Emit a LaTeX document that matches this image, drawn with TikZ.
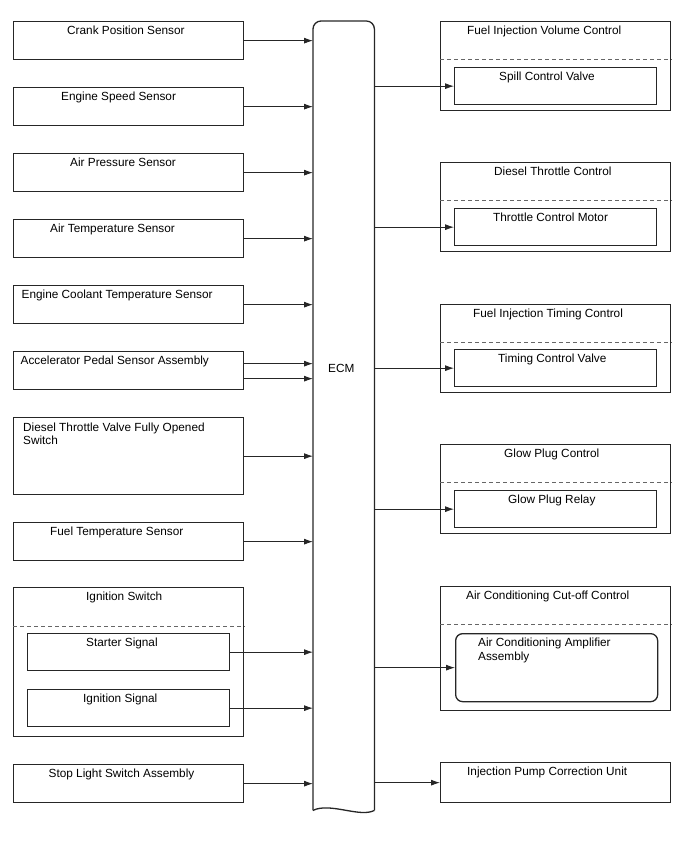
\documentclass[tikz,border=0pt]{standalone}
\usepackage{fontspec}
\setmainfont{Liberation Sans}
\usetikzlibrary{arrows.meta}

\begin{document}
\begin{tikzpicture}[x=1pt, y=-1pt, font=\fontsize{11.8}{13.4}\selectfont,
  blk/.style={draw=black!85, line width=1.3pt, inner sep=0, anchor=north west, minimum width=230pt, minimum height=38pt},
  sub/.style={blk, minimum width=202pt, minimum height=37pt},
  ttl/.style={anchor=base west, inner sep=0, align=left},
  grp/.style={draw=black!60, line width=0.8pt, dash pattern=on 4pt off 3pt},
  sig/.style={draw=black!85, line width=0.8pt, -{Latex[length=9pt, width=6pt]}}]
\useasboundingbox (0,0) rectangle (688,852);
\node[inner sep=0, anchor=north west, minimum width=61pt, minimum height=789pt] (ecm) at (313,21) {}; \node[ttl] (ecmt) at (328,372) {ECM};
\draw[draw=black!85, line width=1.3pt, rounded corners=8pt] (ecm.south west) -- (ecm.north west) -- (ecm.north east) -- (ecm.south east);
\draw[draw=black!85, line width=1.3pt] (ecm.south east) .. controls (360,818) and (330,802) .. (ecm.south west);
\node[blk] (crank) at (13,21) {}; \node[ttl] (crankt) at (67,34.5) {Crank Position Sensor};
\node[blk] (speed) at (13,87) {}; \node[ttl] (speedt) at (61,100.5) {Engine Speed Sensor};
\node[blk] (press) at (13,153) {}; \node[ttl] (presst) at (70,166.5) {Air Pressure Sensor};
\node[blk] (airtemp) at (13,219) {}; \node[ttl] (airtempt) at (50,232.5) {Air Temperature Sensor};
\node[blk] (cool) at (13,285) {}; \node[ttl] (coolt) at (21.5,298.5) {Engine Coolant Temperature Sensor};
\node[blk] (accel) at (13,351) {}; \node[ttl] (accelt) at (20.5,364.5) {Accelerator Pedal Sensor Assembly};
\node[blk, minimum height=77pt] (thrsw) at (13,417) {}; \node[ttl] (thrswt) at (23,444.4) {Diesel Throttle Valve Fully Opened\\Switch};
\node[blk] (fueltemp) at (13,522) {}; \node[ttl] (fueltempt) at (50,535.5) {Fuel Temperature Sensor};
\node[blk, minimum height=149pt] (ign) at (13,587) {}; \node[ttl] (ignt) at (86,600.5) {Ignition Switch};
\draw[grp] ([yshift=-39pt]ign.north west) -- ([yshift=-39pt]ign.north east);
\node[sub] (start) at (27,633) {}; \node[ttl] (startt) at (86,646.5) {Starter Signal};
\node[sub] (ignsig) at (27,689) {}; \node[ttl] (ignsigt) at (83,702.5) {Ignition Signal};
\node[blk] (stop) at (13,764) {}; \node[ttl] (stopt) at (48.5,777.5) {Stop Light Switch Assembly};
\node[blk, minimum height=89pt] (vol) at (440,21) {}; \node[ttl] (volt) at (467,34.5) {Fuel Injection Volume Control};
\draw[grp] ([yshift=-38pt]vol.north west) -- ([yshift=-38pt]vol.north east);
\node[sub] (spill) at (454,67) {}; \node[ttl] (spillt) at (499,80.5) {Spill Control Valve};
\node[blk, minimum height=89pt] (thr) at (440,162) {}; \node[ttl] (thrt) at (494,175.5) {Diesel Throttle Control};
\draw[grp] ([yshift=-38pt]thr.north west) -- ([yshift=-38pt]thr.north east);
\node[sub] (motor) at (454,208) {}; \node[ttl] (motort) at (493,221.5) {Throttle Control Motor};
\node[blk, minimum height=88pt] (tim) at (440,304) {}; \node[ttl] (timt) at (473,317.5) {Fuel Injection Timing Control};
\draw[grp] ([yshift=-38pt]tim.north west) -- ([yshift=-38pt]tim.north east);
\node[sub] (tcv) at (454,349) {}; \node[ttl] (tcvt) at (498,362.5) {Timing Control Valve};
\node[blk, minimum height=89pt] (glow) at (440,444) {}; \node[ttl] (glowt) at (504,457.5) {Glow Plug Control};
\draw[grp] ([yshift=-38pt]glow.north west) -- ([yshift=-38pt]glow.north east);
\node[sub] (relay) at (454,490) {}; \node[ttl] (relayt) at (508,503.5) {Glow Plug Relay};
\node[blk, minimum height=124pt] (ac) at (440,586) {}; \node[ttl] (act) at (466,599.5) {Air Conditioning Cut-off Control};
\draw[grp] ([yshift=-38pt]ac.north west) -- ([yshift=-38pt]ac.north east);
\node[sub, minimum height=68pt, rounded corners=7pt] (amp) at (455,633) {}; \node[ttl] (ampt) at (478,660) {Air Conditioning Amplifier\\Assembly};
\node[blk, minimum height=40pt] (pump) at (440,762) {}; \node[ttl] (pumpt) at (467,775.5) {Injection Pump Correction Unit};
\draw[sig] (crank.east) -- (crank.east -| ecm.west); \draw[sig] (speed.east) -- (speed.east -| ecm.west);
\draw[sig] (press.east) -- (press.east -| ecm.west); \draw[sig] (airtemp.east) -- (airtemp.east -| ecm.west);
\draw[sig] (cool.east) -- (cool.east -| ecm.west);
\draw[sig] ([yshift=7pt]accel.east) -- ([yshift=7pt]accel.east -| ecm.west); \draw[sig] ([yshift=-8pt]accel.east) -- ([yshift=-8pt]accel.east -| ecm.west);
\draw[sig] (thrsw.east) -- (thrsw.east -| ecm.west); \draw[sig] (fueltemp.east) -- (fueltemp.east -| ecm.west);
\draw[sig] (start.east) -- (start.east -| ecm.west); \draw[sig] (ignsig.east) -- (ignsig.east -| ecm.west);
\draw[sig] (stop.east) -- (stop.east -| ecm.west);
\draw[sig] (spill.west -| ecm.east) -- (spill.west); \draw[sig] (motor.west -| ecm.east) -- (motor.west);
\draw[sig] (tcv.west -| ecm.east) -- (tcv.west); \draw[sig] (relay.west -| ecm.east) -- (relay.west);
\draw[sig] (amp.west -| ecm.east) -- (amp.west); \draw[sig] (pump.west -| ecm.east) -- (pump.west);
\end{tikzpicture}
\end{document}
